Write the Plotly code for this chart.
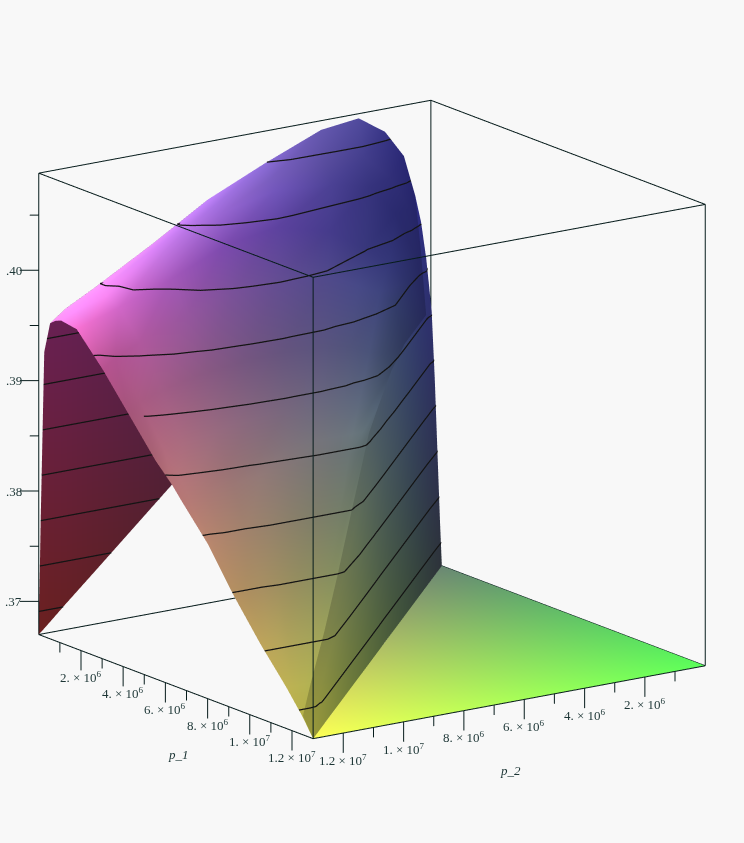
import numpy as np
import plotly.graph_objects as go

P_MAX = 1.3e7
Z0 = 0.3670
Z1 = 0.4088
BG = "#f8f8f8"
LINE = "#071c1c"
FONT = "Liberation Serif"

# p_1 stations (fraction of axis) and the p_2 position of the wall foot at each
p1_frac = [0, .02, .04, .1, .2, .3, .4, .466, .5, .6, .7, .8, .9, .96, 1]
foot_frac = [0, 0, 0, .0625, .1667, .2708, .375, .444, .479, .583, .6875, .7917, .896, .958, 1]
# columns: five absolute offsets from the wall foot, then fractions of what remains
wall_offsets = [0, .004, .012, .025, .04]
span_fracs = [.03, .08, .15, .25, .4, .55, .7, .85, .93, .97]
WALL_COL = 4
# surface height, percent of the z axis span
z_pct = [
    [50, 55, 66, 74, 80, 89, 95, 99, 98, 93, 87.5, 80, 73, 69.5, 67],
    [28, 40, 55, 64, 69, 78, 85.5, 91, 91, 90, 86.5, 80, 73, 70, 68],
    [0, 8, 20, 38, 55, 69, 78, 85, 87, 88, 85, 79, 72, 70, 68.5],
    [0, 6, 17, 38, 55, 65, 70, 74, 79, 82, 80, 75, 71, 69, 68],
    [0, 6, 17, 38, 55, 64, 67, 69.5, 73, 74.5, 73, 70, 66, 63.5, 61.5],
    [0, 6, 17, 38, 53, 57, 58, 60, 61, 61.5, 61, 60, 58, 56.5, 54],
    [0, 6, 17, 38, 49, 50, 51, 51.5, 52, 52, 51.5, 50.5, 49, 48, 46.5],
    [0, 6, 17, 38, 46, 46.5, 46.5, 46.5, 46.5, 46, 45.5, 45, 44, 43.5, 42.5],
    [0, 6, 17, 36, 43, 43.5, 43.5, 43.5, 43.5, 43, 42.5, 41.5, 41, 40.5, 40],
    [0, 6, 17, 33, 34, 34, 34, 34, 34, 34, 34, 33.5, 33.5, 33, 33],
    [0, 6, 17, 24, 24.5, 24.5, 24.5, 24.5, 24.5, 24.5, 24.5, 24, 24, 24, 24],
    [0, 6, 15, 16, 16, 16, 16, 16, 16, 16, 16, 16, 16, 16, 16],
    [0, 6, 8.5, 8.8, 8.8, 8.8, 8.8, 8.8, 8.8, 8.8, 8.8, 8.8, 8.8, 8.8, 8.8],
    [0, 3.5, 3.8, 4, 4, 4, 4, 4, 4, 4, 4, 4, 4, 4, 4],
    [0] * 15,
]
# the steep back sheet at p_1 = 0, seen through the open side
back_p2 = [1, .995, .986, .971, .933, .856, .712, .568]
back_top_pct = [0, 25, 61, 67, 69.5, 73, 80, 87.5]
back_low_pct = [0, .4, 1.1, 2.3, 5.4, 11.5, 23, 34.5]
# flat floor corners (p_1, p_2 fractions) and their colours
floor_p1 = [1, 1, .04]
floor_p2 = [1, 0, 0]
floor_colors = ["rgb(255,255,85)", "rgb(90,255,90)", "rgb(105,135,115)"]

p_tick_major = [2e6, 4e6, 6e6, 8e6, 1e7, 1.2e7]
p_tick_minor = [1e6, 3e6, 5e6, 7e6, 9e6, 1.1e7]
p_tick_text = ["2. × 10<sup>6</sup>", "4. × 10<sup>6</sup>", "6. × 10<sup>6</sup>",
               "8. × 10<sup>6</sup>", "1. × 10<sup>7</sup>", "1.2 × 10<sup>7</sup>"]
z_tick_major = [.37, .38, .39, .40]
z_tick_minor = [.375, .385, .395, .405]
z_tick_text = [".37", ".38", ".39", ".40"]
contour_pct = [5, 14.8, 24.6, 34.4, 44.2, 54, 63.8, 73.6, 83.4, 93.2]

ZS = Z1 - Z0
zv = lambda pct: Z0 + ZS * np.asarray(pct, float) / 100
VIEW = np.array([.5526, .7897, .2655])

# ---- surface vertices
A = np.array(p1_frac)
Ft = np.array(foot_frac)
nr, ncol = len(A), len(wall_offsets) + len(span_fracs)
B = np.zeros((nr, ncol))
for r in range(nr):
    base = Ft[r] + wall_offsets[-1]
    B[r, :len(wall_offsets)] = Ft[r] + np.array(wall_offsets)
    B[r, len(wall_offsets):] = base + np.array(span_fracs) * (1 - base)
B = np.clip(B, 0, 1)
AA = np.repeat(A[:, None], ncol, 1)
U = np.array(z_pct, float) / 100


def rgb(c):
    return "rgb(%d,%d,%d)" % tuple(int(255 * min(1, v)) for v in c)


def colour(a, b, u, n, part):
    c = np.array([.3 + .7 * b ** 1.5, .3 + .7 * a, .38 + .62 * u])
    if part == "back":
        return rgb(np.array([.3 + .7 * b, .3, .3 + .7 * u]) * .42)
    if part == "wall":
        return rgb(c * .6)
    nz = max(0.0, n[2])
    shade = .45 + .52 * nz ** 2.4 + .05 * max(0.0, -n[0])
    c = c * shade
    # pale sheen along the ridge, fading away from it
    reach = .03 + .12 * b
    sheen = (.12 + .28 * b) * max(0.0, 1 - a / reach) * min(1.0, max(0.0, (b - .05) / .15))
    return rgb(c + sheen)


def sheet(b, a, u, part):
    """One smooth piece of the surface: vertices, triangles, baked colours."""
    rows, nc = b.shape
    unit = np.c_[b.ravel(), a.ravel(), u.ravel()]
    nrm_sum = np.zeros_like(unit)
    tris = []
    for r in range(rows - 1):
        for c in range(nc - 1):
            n0 = r * nc + c
            for t in ((n0, n0 + 1, n0 + nc + 1), (n0, n0 + nc + 1, n0 + nc)):
                nv = np.cross(unit[t[1]] - unit[t[0]], unit[t[2]] - unit[t[0]])
                size = np.linalg.norm(nv)
                if size > 1e-9:
                    nv = nv / size
                    if nv[2] < 0:
                        nv = -nv
                    for v in t:
                        nrm_sum[v] += nv
                    tris.append(t)
    nrm_sum /= np.maximum(np.linalg.norm(nrm_sum, axis=1, keepdims=True), 1e-9)
    cols = [colour(aa, bb, uu, nn, part) for aa, bb, uu, nn in zip(a.ravel(), b.ravel(), u.ravel(), nrm_sum)]
    return b.ravel() * P_MAX, a.ravel() * P_MAX, zv(u.ravel() * 100), tris, cols


back_b = np.array([back_p2, back_p2], float)
back_u = np.array([back_top_pct, back_low_pct], float) / 100
pieces = [
    (B[:, :WALL_COL + 1], AA[:, :WALL_COL + 1], U[:, :WALL_COL + 1], "wall"),
    (B[:, WALL_COL:], AA[:, WALL_COL:], U[:, WALL_COL:], "plateau"),
    (back_b, np.zeros_like(back_b), back_u, "back"),
]

lighting = dict(ambient=1, diffuse=0, specular=0, roughness=1, fresnel=0)
fig = go.Figure()
cx, cy, cz = [], [], []
LIFT = .006  # level curves sit a hair toward the viewer so the sheet does not hide them
for b_, a_, u_, part in pieces:
    px2, py1, pz, tris, vcol = sheet(b_, a_, u_, part)
    fig.add_trace(go.Mesh3d(x=px2, y=py1, z=pz,
                            i=[t[0] for t in tris], j=[t[1] for t in tris], k=[t[2] for t in tris],
                            vertexcolor=vcol, lighting=lighting, hoverinfo="skip", showscale=False))
    # level curves through the mesh triangles
    for lev in contour_pct:
        zl = zv(lev)
        for t in tris:
            seg_pts = []
            for p, q in ((t[0], t[1]), (t[1], t[2]), (t[2], t[0])):
                if (pz[p] - zl) * (pz[q] - zl) < 0:
                    f = (zl - pz[p]) / (pz[q] - pz[p])
                    seg_pts.append((px2[p] + f * (px2[q] - px2[p]), py1[p] + f * (py1[q] - py1[p])))
            if len(seg_pts) == 2:
                ox, oy, oz = LIFT * VIEW[0] * P_MAX, LIFT * VIEW[1] * P_MAX, LIFT * VIEW[2] * ZS
                cx += [seg_pts[0][0] + ox, seg_pts[1][0] + ox, None]
                cy += [seg_pts[0][1] + oy, seg_pts[1][1] + oy, None]
                cz += [zl + oz, zl + oz, None]

fig.add_trace(go.Mesh3d(x=np.array(floor_p2) * P_MAX, y=np.array(floor_p1) * P_MAX,
                        z=[Z0] * 3, i=[0], j=[1], k=[2], vertexcolor=floor_colors,
                        lighting=lighting, hoverinfo="skip", showscale=False))
fig.add_trace(go.Scatter3d(x=cx, y=cy, z=cz, mode="lines", hoverinfo="skip", showlegend=False,
                           line=dict(color="#141414", width=2.5)))

# ---- box and ticks
bx, by, bz = [], [], []
def seg(x0, y0, z0, x1, y1, z1):
    bx.extend([x0, x1, None]); by.extend([y0, y1, None]); bz.extend([z0, z1, None])

for zz in (Z0, Z1):
    seg(0, 0, zz, P_MAX, 0, zz); seg(P_MAX, 0, zz, P_MAX, P_MAX, zz)
    seg(P_MAX, P_MAX, zz, 0, P_MAX, zz); seg(0, P_MAX, zz, 0, 0, zz)
for xx, yy in ((0, 0), (P_MAX, 0), (0, P_MAX), (P_MAX, P_MAX)):
    seg(xx, yy, Z0, xx, yy, Z1)

ANN = []
def ann(x, y, z, text, **kw):
    ANN.append(dict(x=x, y=y, z=z, text=text, showarrow=False,
                    font=dict(family=FONT, size=13, color="#1c3535"), **kw))

down_major, down_minor = ZS * 20 / 465, ZS * 10 / 465
for v, t in zip(p_tick_major, p_tick_text):
    seg(P_MAX, v, Z0, P_MAX, v, Z0 - down_major)   # p_1 ticks on the p_2 = max edge
    seg(v, P_MAX, Z0, v, P_MAX, Z0 - down_major)   # p_2 ticks on the p_1 = max edge
    ann(P_MAX, v, Z0 - down_major, t, xanchor="center", yanchor="top", yshift=3)
    ann(v, P_MAX, Z0 - down_major, t, xanchor="center", yanchor="top", yshift=3)
for v in p_tick_minor:
    seg(P_MAX, v, Z0, P_MAX, v, Z0 - down_minor)
    seg(v, P_MAX, Z0, v, P_MAX, Z0 - down_minor)
# z ticks: pointing straight left on the screen from the left vertical edge
dp1, dp2 = -.0216 * P_MAX / 18, .0308 * P_MAX / 18
for v, t in zip(z_tick_major, z_tick_text):
    seg(P_MAX, 0, v, P_MAX + 19 * dp2, 19 * dp1, v)
    ann(P_MAX + 19 * dp2, 19 * dp1, v, t, xanchor="right", yanchor="middle", xshift=4)
for v in z_tick_minor:
    seg(P_MAX, 0, v, P_MAX + 9 * dp2, 9 * dp1, v)
fig.add_trace(go.Scatter3d(x=bx, y=by, z=bz, mode="lines", hoverinfo="skip", showlegend=False,
                           line=dict(color=LINE, width=2)))

ann(P_MAX, .5 * P_MAX, Z0, "<i>p_1</i>", xanchor="center", yanchor="middle", xshift=3, yshift=-68)
ann(.5 * P_MAX, P_MAX, Z0, "<i>p_2</i>", xanchor="center", yanchor="middle", xshift=1, yshift=-68)

pad = .15
DIST = 2.0
ASPECT = 1.476
eye = VIEW * DIST
hidden = dict(visible=False)
fig.update_layout(
    width=744, height=843, margin=dict(l=0, r=0, t=0, b=0),
    paper_bgcolor=BG, showlegend=False,
    scene=dict(
        bgcolor=BG,
        domain=dict(x=[0, 1], y=[0, 1]),
        aspectmode="manual", aspectratio=dict(x=ASPECT, y=ASPECT, z=ASPECT),
        xaxis=dict(range=[-pad * P_MAX, (1 + pad) * P_MAX], **hidden),
        yaxis=dict(range=[-pad * P_MAX, (1 + pad) * P_MAX], **hidden),
        zaxis=dict(range=[Z0 - pad * ZS, Z1 + pad * ZS], **hidden),
        camera=dict(projection=dict(type="orthographic"),
                    eye=dict(x=eye[0], y=eye[1], z=eye[2] - .005),
                    center=dict(x=0, y=0, z=-.005), up=dict(x=0, y=0, z=1)),
        annotations=ANN,
    ),
)
fig.write_html("out.html", config=dict(displayModeBar=False),
               post_script="document.body.style.margin='0';document.body.style.background='%s';" % BG)
